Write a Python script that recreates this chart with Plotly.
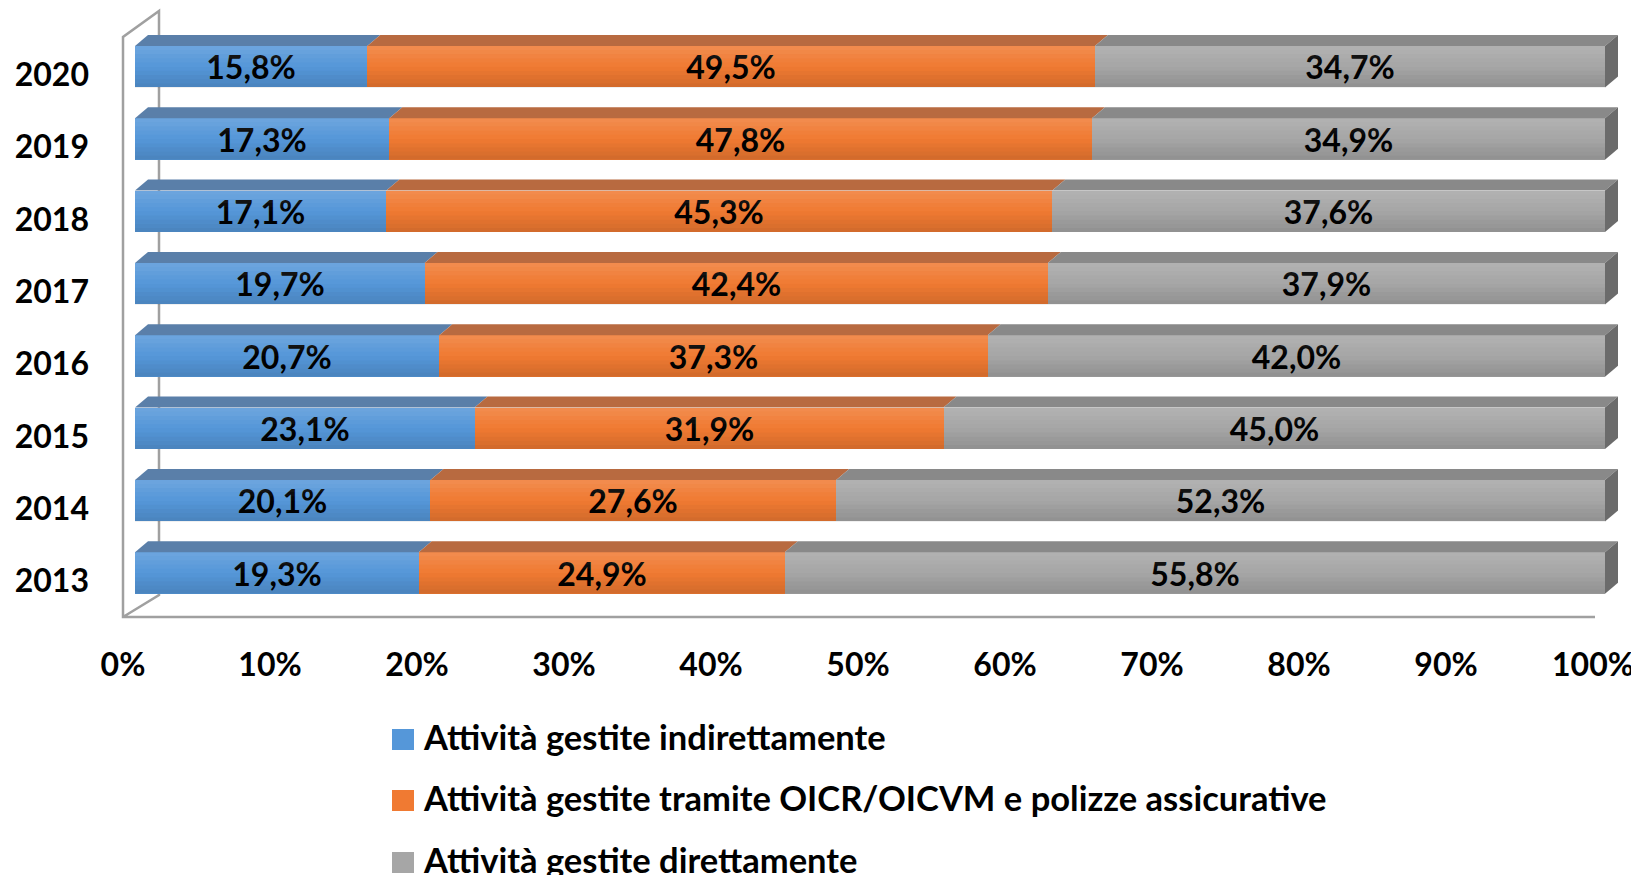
import plotly.graph_objects as go

# ---------------- data ----------------
years = ["2013", "2014", "2015", "2016", "2017", "2018", "2019", "2020"]
indiretta = [19.3, 20.1, 23.1, 20.7, 19.7, 17.1, 17.3, 15.8]
oicr = [24.9, 27.6, 31.9, 37.3, 42.4, 45.3, 47.8, 49.5]
diretta = [55.8, 52.3, 45.0, 42.0, 37.9, 37.6, 34.9, 34.7]
series_names = [
    "Attività gestite indirettamente",
    "Attività gestite tramite OICR/OICVM e polizze assicurative",
    "Attività gestite direttamente",
]
x_ticks = [0, 10, 20, 30, 40, 50, 60, 70, 80, 90, 100]
x_ticktext = [f"{t}%" for t in x_ticks]

# ---------------- style ----------------
OFF = 8                      # page body margin of the html page
W, H = 1639 - OFF, 875 - OFF
FONT = "Lato"
FS = 32
FS_LEG = 34.5
front_colors = ["#5597D9", "#F07A32", "#A6A6A6"]
top_colors = ["#5A7FA9", "#B86A40", "#898989"]
side_color = "#6B6B6B"
wall_color = "#A0A0A0"

# geometry in page pixels
PL, PR, PT, PB = 100, 1629, OFF, 640
SX = 14.7          # px per percent
X0 = 135           # pixel of 0% on bar front
SY = 72.33         # px per category
Y0 = 573           # pixel centre of first category
BAR_W = 41.5 / SY
DX = 13 / SX       # bar depth (x)
DY = 11 / SY       # bar depth (y)

xr = [(PL - X0) / SX, (PR - X0) / SX]
yr = [(Y0 - PB) / SY, (Y0 - PT) / SY]


def fmt(v):
    return f"{v:.1f}".replace(".", ",") + "%"


fig = go.Figure()
all_series = [indiretta, oicr, diretta]
idx = list(range(len(years)))
for name, vals, col in zip(series_names, all_series, front_colors):
    fig.add_trace(go.Bar(
        y=idx, x=vals, orientation="h", name=name, width=BAR_W,
        marker=dict(color=col, line=dict(width=0)),
        text=[fmt(v) for v in vals], textposition="inside",
        insidetextanchor="middle", constraintext="none", textangle=0,
        insidetextfont=dict(family=FONT, size=FS, color="black", weight="bold"),
        showlegend=False, hoverinfo="skip",
    ))

shapes = []
# wall / floor (drawn behind bars)
wx_front = (123 - X0) / SX
wx_back = (159 - X0) / SX
wy_front_top = (Y0 - 37) / SY
wy_back_top = (Y0 - 11) / SY
wy_floor_front = (Y0 - 617) / SY
wy_floor_back = (Y0 - 595) / SY
wx_floor_end = (1595 - X0) / SX
wall_path = (f"M {wx_floor_end},{wy_floor_front} L {wx_front},{wy_floor_front} "
             f"L {wx_front},{wy_front_top} L {wx_back},{wy_back_top} "
             f"L {wx_back},{wy_floor_back} L {wx_front},{wy_floor_front}")
shapes.append(dict(type="path", path=wall_path, xref="x", yref="y", layer="below",
                   line=dict(color=wall_color, width=2.5)))

# 3D top and side faces + soft vertical shading, derived from the data
NB = 10
for i in idx:
    yt = i + BAR_W / 2
    yb = i - BAR_W / 2
    c0 = 0.0
    for s, vals in enumerate(all_series):
        c1 = c0 + vals[i]
        p = (f"M {c0},{yt} L {c1},{yt} L {c1 + DX},{yt + DY} L {c0 + DX},{yt + DY} Z")
        shapes.append(dict(type="path", path=p, xref="x", yref="y", layer="above",
                           fillcolor=top_colors[s], line=dict(width=0)))
        c0 = c1
    total = c0
    p = (f"M {total},{yb} L {total},{yt} L {total + DX},{yt + DY} L {total + DX},{yb + DY} Z")
    shapes.append(dict(type="path", path=p, xref="x", yref="y", layer="above",
                       fillcolor=side_color, line=dict(width=0)))
    for j in range(NB):
        t = (j + 0.5) / NB
        if t > 0.5:
            col = f"rgba(255,255,255,{(t - 0.5) * 2 * 0.15:.3f})"
        else:
            col = f"rgba(0,0,0,{(0.5 - t) * 2 * 0.13:.3f})"
        shapes.append(dict(type="rect", xref="x", yref="y", layer="above",
                           x0=0, x1=total,
                           y0=yb + j * BAR_W / NB, y1=yb + (j + 1) * BAR_W / NB,
                           fillcolor=col, line=dict(width=0)))


# manual legend
def pxx(p):
    return (p - PL) / (PR - PL)


def pxy(p):
    return (PB - p) / (PB - PT)


annotations = []
legend_rows = [739.5, 800.5, 862.5]
for name, col, yc in zip(series_names, front_colors, legend_rows):
    shapes.append(dict(type="rect", xref="paper", yref="paper",
                       x0=pxx(392), x1=pxx(414), y0=pxy(yc + 10.5), y1=pxy(yc - 10.5),
                       fillcolor=col, line=dict(width=0)))
    annotations.append(dict(x=pxx(421), y=pxy(yc - 3), xref="paper", yref="paper",
                            text=name, showarrow=False, xanchor="left", yanchor="middle",
                            font=dict(family=FONT, size=FS_LEG, color="black", weight="bold")))

fig.update_layout(
    width=W, height=H,
    margin=dict(l=PL - OFF, r=1639 - PR, t=PT - OFF, b=875 - PB, autoexpand=False),
    paper_bgcolor="white", plot_bgcolor="white",
    barmode="stack", bargap=0,
    shapes=shapes, annotations=annotations,
    xaxis=dict(range=xr, tickvals=x_ticks, ticktext=x_ticktext, showgrid=False,
               zeroline=False, showline=False, ticks="", ticklabelshift=-12,
               ticklabelstandoff=3,
               tickfont=dict(family=FONT, size=FS, color="black", weight="bold")),
    yaxis=dict(range=yr, tickvals=idx, ticktext=years, showgrid=False,
               zeroline=False, showline=False, ticks="", ticklabelshift=8,
               ticklabelstandoff=10,
               tickfont=dict(family=FONT, size=FS, color="black", weight="bold")),
    showlegend=False,
)

fig.write_html("out.html")
